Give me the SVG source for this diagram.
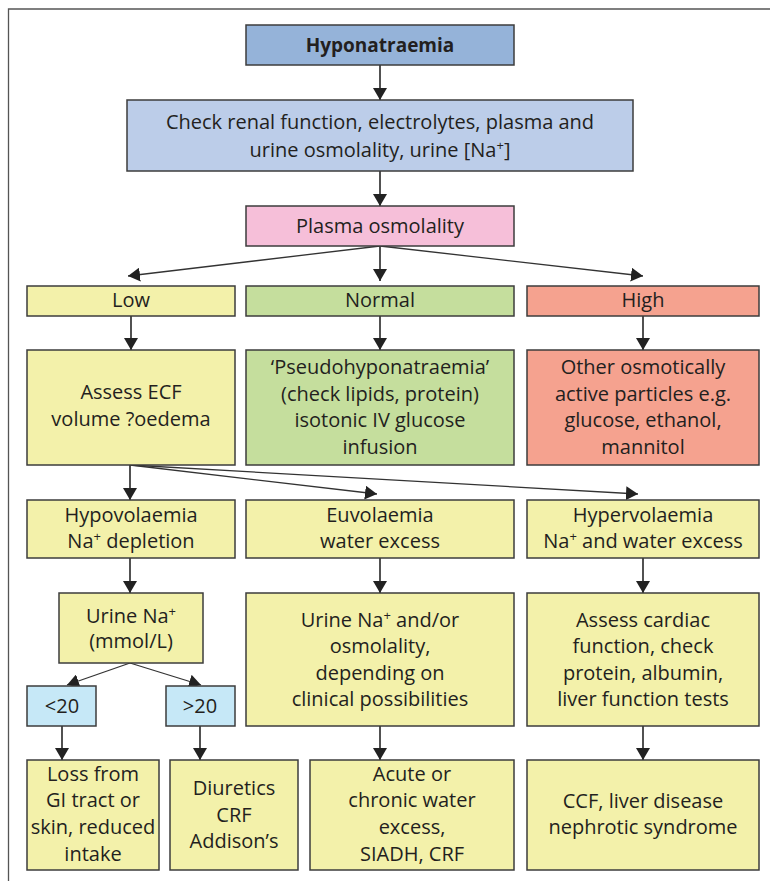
<svg xmlns="http://www.w3.org/2000/svg" width="770" height="881" viewBox="0 0 770 881">
  <style>
    .box { stroke: #3c3c3c; stroke-width: 1.5; }
    .blue { fill: #95b3d9; }
    .lblue { fill: #bccde9; }
    .pink { fill: #f6bfd9; }
    .yellow { fill: #f3f1aa; }
    .green { fill: #c5de9d; }
    .red { fill: #f5a28f; }
    .cyan { fill: #c6e8f7; }
    text { font-family: "Open Sans", "Noto Sans", "Liberation Sans", sans-serif; font-size: 20px; fill: #231f20; text-anchor: middle; }
    .bold { font-weight: bold; font-size: 19px; }
    .sup { font-size: 13px; }
    .v { stroke: #333; stroke-width: 1.7; fill: none; }
    .d { stroke: #333; stroke-width: 1.3; fill: none; }
  </style>
  <defs>
    <marker id="head" viewBox="0 0 12 14" refX="12" refY="7" markerWidth="12" markerHeight="14" markerUnits="userSpaceOnUse" orient="auto">
      <path d="M0,0 L12,7 L0,14 Z" fill="#222"/>
    </marker>
  </defs>

  <rect width="770" height="881" fill="#fff"/>
  <!-- frame -->
  <path d="M8.5,881 V9 H770" fill="none" stroke="#555" stroke-width="1.3"/>

  <!-- connectors -->
  <g id="connectors">
    <line class="v" x1="380" y1="65" x2="380" y2="100" marker-end="url(#head)"/>
    <line class="v" x1="380" y1="171" x2="380" y2="206" marker-end="url(#head)"/>
    <line class="v" x1="380" y1="246" x2="380" y2="281" marker-end="url(#head)"/>
    <line class="d" x1="380" y1="246" x2="128" y2="276" marker-end="url(#head)"/>
    <line class="d" x1="380" y1="246" x2="643" y2="276" marker-end="url(#head)"/>
    <line class="v" x1="131" y1="316" x2="131" y2="350" marker-end="url(#head)"/>
    <line class="v" x1="380" y1="316" x2="380" y2="350" marker-end="url(#head)"/>
    <line class="v" x1="643" y1="316" x2="643" y2="350" marker-end="url(#head)"/>
    <line class="v" x1="130" y1="465" x2="130" y2="500" marker-end="url(#head)"/>
    <line class="d" x1="130" y1="465" x2="377" y2="494" marker-end="url(#head)"/>
    <line class="d" x1="130" y1="465" x2="638" y2="494" marker-end="url(#head)"/>
    <line class="v" x1="130" y1="558" x2="130" y2="593" marker-end="url(#head)"/>
    <line class="v" x1="380" y1="558" x2="380" y2="593" marker-end="url(#head)"/>
    <line class="v" x1="643" y1="558" x2="643" y2="593" marker-end="url(#head)"/>
    <line class="d" x1="130" y1="663" x2="67" y2="685" marker-end="url(#head)"/>
    <line class="d" x1="130" y1="663" x2="201" y2="685" marker-end="url(#head)"/>
    <line class="v" x1="62" y1="726" x2="62" y2="760" marker-end="url(#head)"/>
    <line class="v" x1="200" y1="726" x2="200" y2="760" marker-end="url(#head)"/>
    <line class="v" x1="380" y1="726" x2="380" y2="760" marker-end="url(#head)"/>
    <line class="v" x1="643" y1="726" x2="643" y2="760" marker-end="url(#head)"/>
  </g>

  <g id="hyponatraemia">
    <rect class="box blue" x="246" y="25" width="268" height="40"/>
    <text class="bold" x="380" y="52">Hyponatraemia</text>
  </g>
  <g id="check">
    <rect class="box lblue" x="127" y="100" width="506" height="71"/>
    <text x="380" y="129">Check renal function, electrolytes, plasma and</text>
    <text x="380" y="157">urine osmolality, urine [Na<tspan class="sup" dy="-7">+</tspan><tspan dy="7">]</tspan></text>
  </g>
  <g id="plasma">
    <rect class="box pink" x="246" y="206" width="268" height="40"/>
    <text x="380" y="233">Plasma osmolality</text>
  </g>

  <g id="low">
    <rect class="box yellow" x="27" y="286" width="208" height="30"/>
    <text x="131" y="307">Low</text>
  </g>
  <g id="normal">
    <rect class="box green" x="246" y="286" width="268" height="30"/>
    <text x="380" y="307">Normal</text>
  </g>
  <g id="high">
    <rect class="box red" x="527" y="286" width="232" height="30"/>
    <text x="643" y="307">High</text>
  </g>

  <g id="assess-ecf">
    <rect class="box yellow" x="27" y="350" width="208" height="115"/>
    <text x="131" y="399">Assess ECF</text>
    <text x="131" y="426">volume ?oedema</text>
  </g>
  <g id="pseudo">
    <rect class="box green" x="246" y="350" width="268" height="115"/>
    <text x="380" y="374">‘Pseudohyponatraemia’</text>
    <text x="380" y="401">(check lipids, protein)</text>
    <text x="380" y="427">isotonic IV glucose</text>
    <text x="380" y="454">infusion</text>
  </g>
  <g id="osmotic">
    <rect class="box red" x="527" y="350" width="232" height="115"/>
    <text x="643" y="374">Other osmotically</text>
    <text x="643" y="401">active particles e.g.</text>
    <text x="643" y="427">glucose, ethanol,</text>
    <text x="643" y="454">mannitol</text>
  </g>

  <g id="hypovolaemia">
    <rect class="box yellow" x="27" y="500" width="208" height="58"/>
    <text x="131" y="522">Hypovolaemia</text>
    <text x="131" y="548">Na<tspan class="sup" dy="-7">+</tspan><tspan dy="7"> depletion</tspan></text>
  </g>
  <g id="euvolaemia">
    <rect class="box yellow" x="246" y="500" width="268" height="58"/>
    <text x="380" y="522">Euvolaemia</text>
    <text x="380" y="548">water excess</text>
  </g>
  <g id="hypervolaemia">
    <rect class="box yellow" x="527" y="500" width="232" height="58"/>
    <text x="643" y="522">Hypervolaemia</text>
    <text x="643" y="548">Na<tspan class="sup" dy="-7">+</tspan><tspan dy="7"> and water excess</tspan></text>
  </g>

  <g id="urine-na">
    <rect class="box yellow" x="59" y="593" width="144" height="70"/>
    <text x="131" y="623">Urine Na<tspan class="sup" dy="-7">+</tspan></text>
    <text x="131" y="648">(mmol/L)</text>
  </g>
  <g id="urine-osm">
    <rect class="box yellow" x="246" y="593" width="268" height="133"/>
    <text x="380" y="627">Urine Na<tspan class="sup" dy="-7">+</tspan><tspan dy="7"> and/or</tspan></text>
    <text x="380" y="653">osmolality,</text>
    <text x="380" y="680">depending on</text>
    <text x="380" y="706">clinical possibilities</text>
  </g>
  <g id="assess-cardiac">
    <rect class="box yellow" x="527" y="593" width="232" height="133"/>
    <text x="643" y="627">Assess cardiac</text>
    <text x="643" y="653">function, check</text>
    <text x="643" y="680">protein, albumin,</text>
    <text x="643" y="706">liver function tests</text>
  </g>

  <g id="lt20">
    <rect class="box cyan" x="27" y="686" width="69" height="40"/>
    <text x="62" y="713">&lt;20</text>
  </g>
  <g id="gt20">
    <rect class="box cyan" x="166" y="686" width="69" height="40"/>
    <text x="200" y="713">&gt;20</text>
  </g>

  <g id="loss">
    <rect class="box yellow" x="27" y="760" width="132" height="110"/>
    <text x="93" y="781">Loss from</text>
    <text x="93" y="807">GI tract or</text>
    <text x="93" y="834">skin, reduced</text>
    <text x="93" y="861">intake</text>
  </g>
  <g id="diuretics">
    <rect class="box yellow" x="170" y="760" width="128" height="110"/>
    <text x="234" y="795">Diuretics</text>
    <text x="234" y="822">CRF</text>
    <text x="234" y="848">Addison’s</text>
  </g>
  <g id="water-excess">
    <rect class="box yellow" x="310" y="760" width="204" height="110"/>
    <text x="412" y="781">Acute or</text>
    <text x="412" y="807">chronic water</text>
    <text x="412" y="834">excess,</text>
    <text x="412" y="861">SIADH, CRF</text>
  </g>
  <g id="ccf">
    <rect class="box yellow" x="527" y="760" width="232" height="110"/>
    <text x="643" y="808">CCF, liver disease</text>
    <text x="643" y="834">nephrotic syndrome</text>
  </g>
</svg>
